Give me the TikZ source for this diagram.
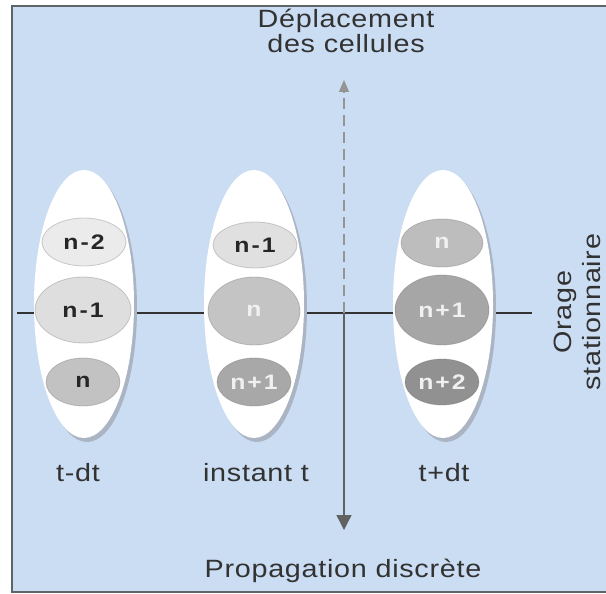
\documentclass[tikz,border=0pt]{standalone}
\usepackage{fontspec}
\setmainfont{Liberation Sans}
\newfontfamily\labfont[LetterSpace=2.5]{Liberation Sans}
\newfontfamily\cellfont[LetterSpace=8]{Liberation Sans Bold}
\usepackage{graphicx}
\usetikzlibrary{shapes.geometric,arrows.meta}
\definecolor{bg}{RGB}{203,221,243}
\definecolor{shadowc}{RGB}{170,180,195}
\definecolor{framec}{RGB}{95,100,105}
\definecolor{txt}{RGB}{50,50,50}
\newcommand\wtxt[1]{\scalebox{1.15}[1]{#1}}
\newcommand\btxt[1]{\scalebox{1.18}[1]{#1}}
\begin{document}
\begin{tikzpicture}[x=1pt,y=-1pt,
  big/.style={fill=white},
  bigshadow/.style={fill=shadowc},
  cell/.style={ellipse, inner sep=0pt, draw=black!60, draw opacity=0.3, line width=0.8pt, fill=black!#1,
     font=\cellfont\fontsize{21}{24}\selectfont, text=black!85},
  lab/.style={font=\labfont\fontsize{25}{30}\selectfont, text=txt, inner sep=0pt, anchor=base},
  hline/.style={line width=1.8pt, color=black!80},
]
\useasboundingbox (0,0) rectangle (606,594);
\fill[white] (0,0) rectangle (606,594);
\fill[bg] (12,6) rectangle (606,592);
\draw[framec, line width=2.2pt] (606,6) -- (12,6) -- (12,592) -- (606,592);

% axes
\coordinate (hl) at (17,313);
\coordinate (hr) at (532,313);
\coordinate (cross) at (344,313);
\coordinate (up) at (344,80);
\coordinate (down) at (344,530);
\draw[hline] (hl) -- (hr);
\draw[color=black!42, line width=1.3pt, dash pattern=on 11pt off 6pt,
  -{Triangle[length=12pt,width=10pt]}] (cross) -- (up);
\draw[color=black!62, line width=1.4pt,
  -{Triangle[length=15pt,width=15pt]}] (cross) -- (down);

% big ellipses
\foreach \cx in {84,254,443} {
  \fill[bigshadow] (\cx+3,308) ellipse [x radius=50, y radius=134];
  \fill[big] (\cx,304) ellipse [x radius=50, y radius=134];
}

% cells, column t-dt
\node[cell=8, minimum width=84pt, minimum height=48pt] (a1) at (84,242) {\btxt{n-2}};
\node[cell=13, minimum width=96pt, minimum height=66pt] (a2) at (83,310) {\btxt{n-1}};
\node[cell=24, minimum width=74pt, minimum height=48pt] (a3) at (83,382) {\btxt{n}};
% column instant t
\node[cell=12, minimum width=84pt, minimum height=46pt] (b1) at (255,245) {\btxt{n-1}};
\node[cell=23, minimum width=92pt, minimum height=68pt, text=white!94!black] (b2) at (254,311) {\btxt{n}};
\node[cell=34, minimum width=74pt, minimum height=48pt, text=white!94!black] (b3) at (254,382) {\btxt{n+1}};
% column t+dt
\node[cell=26, minimum width=82pt, minimum height=48pt, text=white!94!black] (c1) at (442,243) {\btxt{n}};
\node[cell=35, minimum width=94pt, minimum height=70pt, text=white!94!black] (c2) at (442,310) {\btxt{n+1}};
\node[cell=43, minimum width=74pt, minimum height=46pt, text=white!94!black] (c3) at (442,382) {\btxt{n+2}};

% labels
\node[lab] (top1) at (346,28) {\wtxt{Déplacement}};
\node[lab] (top2) at (346,53) {\wtxt{des cellules}};
\node[lab] (bot) at (343,577) {\wtxt{Propagation discrète}};
\node[lab] (l1) at (78,481) {\wtxt{t-dt}};
\node[lab] (l2) at (256,481) {\wtxt{instant t}};
\node[lab] (l3) at (444,481) {\wtxt{t+dt}};
\node[lab, rotate=90] (side1) at (571,312) {\wtxt{Orage}};
\node[lab, rotate=90] (side2) at (600,312) {\wtxt{stationnaire}};
\end{tikzpicture}
\end{document}
